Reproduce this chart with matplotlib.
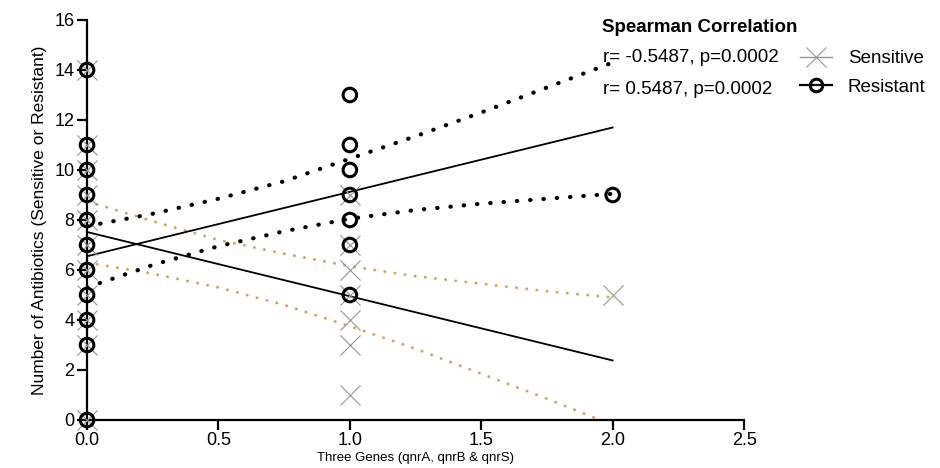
import numpy as np
import matplotlib.pyplot as plt
from matplotlib.lines import Line2D

plt.rcParams['font.family'] = ['Liberation Sans', 'DejaVu Sans']

# points
sens_x = [0] * 11 + [1] * 7 + [2]
sens_y = [0, 3, 4, 5, 6, 7, 8, 9, 10, 11, 14,
          1, 3, 4, 5, 6, 7, 9,
          5]
res_x = [0] * 11 + [1] * 7 + [2]
res_y = [0, 3, 4, 5, 6, 7, 8, 9, 10, 11, 14,
         5, 7, 8, 9, 10, 11, 13,
         9]

# regression lines (start, end)
line_x = [0, 2]
sens_fit = [7.52, 2.38]
res_fit = [6.55, 11.7]

# confidence bands
band_x = [0, 0.25, 0.5, 0.75, 1.0, 1.25, 1.5, 1.75, 2.0]
res_upper = [7.75, 8.25, 8.85, 9.55, 10.45, 11.35, 12.3, 13.3, 14.3]
res_lower = [5.3, 6.2, 6.95, 7.55, 8.05, 8.4, 8.65, 8.85, 9.05]
sens_upper = [8.75, 7.95, 7.2, 6.65, 6.15, 5.75, 5.45, 5.15, 4.9]
sens_lower = [6.3, 5.85, 5.3, 4.6, 3.75, 2.85, 1.85, 0.85, -0.2]

fig = plt.figure(figsize=(9.4, 4.68), dpi=100)
ax = fig.add_axes([0.0926, 0.1026, 0.699, 0.8547])

orange = '#dba25e'
ax.plot(band_x, sens_upper, color=orange, lw=2.1, ls=(0, (0.1, 3.4)),
        dash_capstyle='round', zorder=2)
ax.plot(band_x, sens_lower, color=orange, lw=2.1, ls=(0, (0.1, 3.4)),
        dash_capstyle='round', zorder=2)
ax.plot(band_x, res_upper, color='black', lw=3.0, ls=(0, (0.1, 3.1)),
        dash_capstyle='round', zorder=3)
ax.plot(band_x, res_lower, color='black', lw=3.0, ls=(0, (0.1, 3.1)),
        dash_capstyle='round', zorder=3)

ax.plot(line_x, sens_fit, color='black', lw=1.3, zorder=3)
ax.plot(line_x, res_fit, color='black', lw=1.3, zorder=3)

ax.scatter(sens_x, sens_y, marker='x', s=210, color='#969696', linewidths=0.8,
           clip_on=False, zorder=4)
ax.scatter(res_x, res_y, marker='o', s=95, facecolors='none', edgecolors='black',
           linewidths=2.2, clip_on=False, zorder=5)

ax.set_xlim(0, 2.5)
ax.set_ylim(0, 16)
ax.set_xticks([0, 0.5, 1.0, 1.5, 2.0, 2.5])
ax.set_xticklabels(['0.0', '0.5', '1.0', '1.5', '2.0', '2.5'])
ax.set_yticks(range(0, 17, 2))
for s in ['top', 'right']:
    ax.spines[s].set_visible(False)
for s in ['left', 'bottom']:
    ax.spines[s].set_linewidth(1.6)
ax.tick_params(width=1.6, length=7, labelsize=13, pad=2)

ax.set_xlabel('Three Genes (qnrA, qnrB & qnrS)', fontsize=9.5, labelpad=2)
ax.set_ylabel('Number of Antibiotics (Sensitive or Resistant)', fontsize=12.5, labelpad=5)

# legend block
fig.text(602 / 940, 1 - 27 / 468, 'Spearman Correlation', fontsize=13.5,
         fontweight='bold', va='center', ha='left')
fig.text(603 / 940, 1 - 58 / 468, 'r= -0.5487, p=0.0002', fontsize=13.5,
         va='center', ha='left')
fig.text(603 / 940, 1 - 89 / 468, 'r= 0.5487, p=0.0002', fontsize=13.5,
         va='center', ha='left')

h_sens = Line2D([], [], color='#969696', lw=1.0, marker='x', markersize=14,
                markeredgewidth=0.8)
h_res = Line2D([], [], color='black', lw=1.6, marker='o', markersize=9,
               markerfacecolor='none', markeredgewidth=2.2)
fig.legend([h_sens, h_res], ['Sensitive', 'Resistant'], loc='center left',
           bbox_to_anchor=(800 / 940, 1 - 73 / 468), frameon=False,
           fontsize=13.5, handlelength=1.7, handletextpad=0.85, labelspacing=0.62,
           borderpad=0, borderaxespad=0)

fig.savefig('out.png', dpi=100)
